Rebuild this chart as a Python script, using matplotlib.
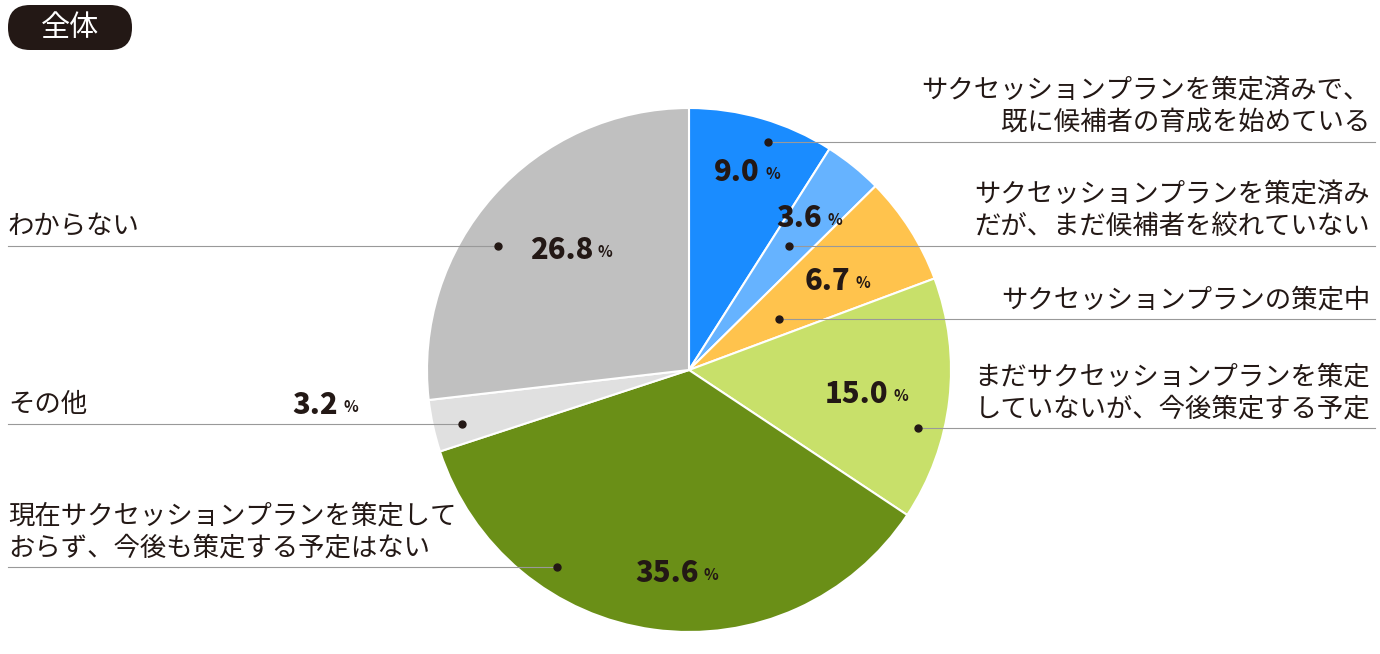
import matplotlib.pyplot as plt
from matplotlib.patches import FancyBboxPatch

plt.rcParams['font.family'] = ['Noto Sans CJK JP', 'DejaVu Sans']

values = [9.0, 3.6, 6.7, 15.0, 35.6, 3.2, 26.8]
colors = ['#1a8cff', '#66b3ff', '#ffc34d', '#c8e06a', '#6a8f17', '#e0e0e0', '#c0c0c0']
labels = [
    'サクセッションプランを策定済みで、\n既に候補者の育成を始めている',
    'サクセッションプランを策定済み\nだが、まだ候補者を絞れていない',
    'サクセッションプランの策定中',
    'まだサクセッションプランを策定\nしていないが、今後策定する予定',
    '現在サクセッションプランを策定して\nおらず、今後も策定する予定はない',
    'その他',
    'わからない',
]
# pixel layout (x, y from top): percent text end, dot, line y, side
pct_pos = [(760, 172), (822, 218), (850, 281), (888, 394), (699, 573), (338, 405), (593, 250)]
dot_pos = [(768, 142), (789, 246), (779, 319), (918, 428), (557, 567), (462, 424), (498, 246)]
sides = ['R', 'R', 'R', 'R', 'L', 'L', 'L']

W, H = 1380, 654
fig = plt.figure(figsize=(W / 100, H / 100), dpi=100)
ax = fig.add_axes([0, 0, 1, 1])

ax.pie(values, colors=colors, startangle=90, counterclock=False,
       center=(689, H - 370), radius=262,
       wedgeprops=dict(edgecolor='white', linewidth=1.5), frame=True)
ax.set_xlim(0, W)
ax.set_ylim(0, H)
ax.set_aspect('equal')
ax.axis('off')

for v, lab, (px, py), (dx, dy), s in zip(values, labels, pct_pos, dot_pos, sides):
    ax.text(px, H - py, f'{v:.1f}', ha='right', va='center', fontsize=21,
            fontweight='black', color='#231815')
    ax.text(px + 5, H - py - 2, '%', ha='left', va='center', fontsize=11,
            fontweight='bold', color='#231815')
    ax.plot(dx, H - dy, 'o', color='#231815', ms=5, zorder=5)
    if s == 'R':
        ax.plot([dx, 1375], [H - dy, H - dy], color='#999999', lw=0.8)
        ax.text(1370, H - dy + 6, lab, ha='right', va='bottom', fontsize=19,
                color='#231815', linespacing=1.2)
    else:
        ax.plot([8, dx], [H - dy, H - dy], color='#999999', lw=0.8)
        ax.text(8, H - dy + 6, lab, ha='left', va='bottom', fontsize=19,
                color='#231815', linespacing=1.2)

box = FancyBboxPatch((8, H - 50), 124, 45, boxstyle='round,pad=0,rounding_size=22',
                     fc='#231815', ec='none')
ax.add_patch(box)
ax.text(70, H - 28, '全体', ha='center', va='center', fontsize=21, color='white')

fig.savefig('out.png', dpi=100, facecolor='white')
